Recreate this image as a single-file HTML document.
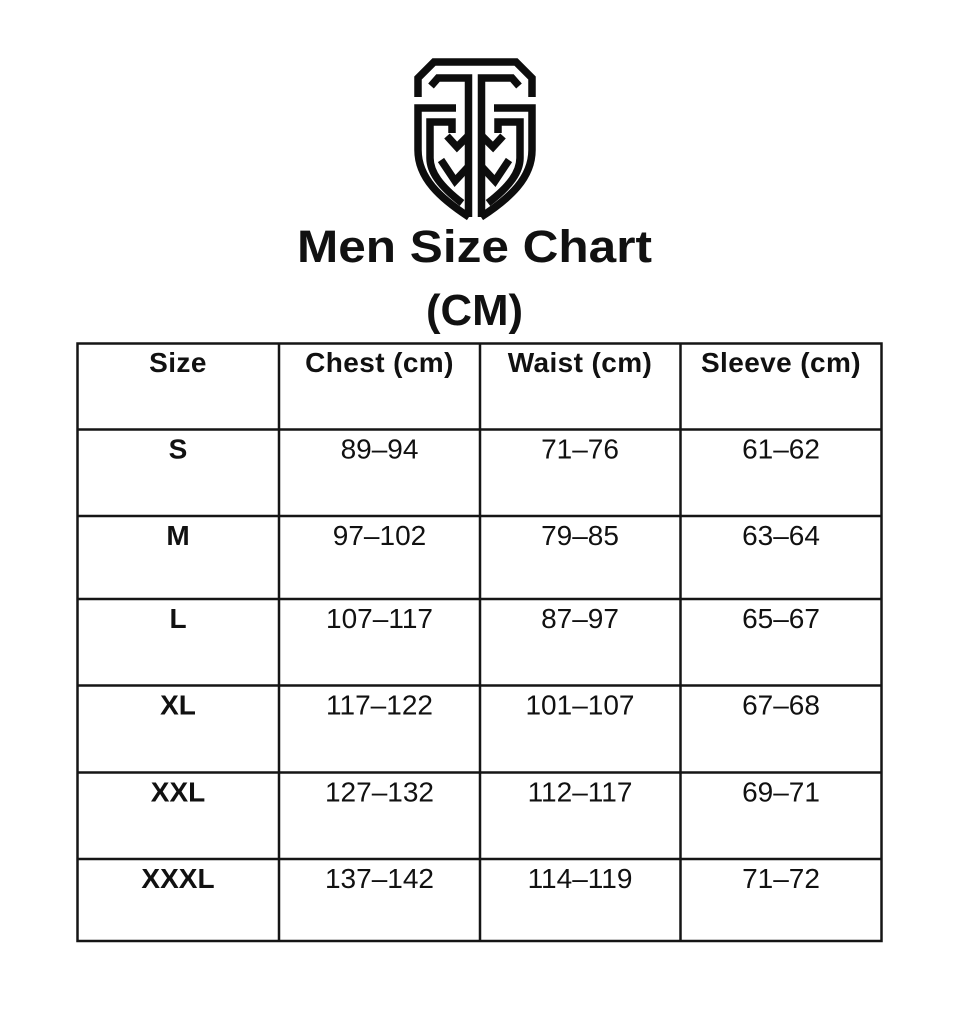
<!DOCTYPE html>
<html>
<head>
<meta charset="utf-8">
<style>
  html, body { margin: 0; padding: 0; background: #ffffff; }
  body { width: 954px; height: 1024px; overflow: hidden; }
  svg { display: block; }
  .t { font-family: "Liberation Sans", Arial, sans-serif; fill: #111; }
  .b { font-weight: bold; }
</style>
</head>
<body>
<svg width="954" height="1024" viewBox="0 0 954 1024" xmlns="http://www.w3.org/2000/svg">
  <rect x="0" y="0" width="954" height="1024" fill="#ffffff"/>

  <!-- Logo -->
  <g fill="none" stroke="#0d0d0d" stroke-width="7.5" stroke-linejoin="miter" stroke-linecap="butt">
    <path d="M 418 97 L 418 78 L 434 62 L 516 62 L 532 78 L 532 97"/>
    <!-- left half -->
    <path d="M 456 108 L 418 108 L 418 150 C 418 178 440 198 469 217"/>
    <path d="M 431 86 L 438 78 L 468.5 78 L 468.5 217"/>
    <path d="M 452 133 L 452 122 L 430 122 L 430 158 C 430 172 440 186 462 203"/>
    <path d="M 447 136 L 457 147 L 468 136"/>
    <path d="M 441 160 L 455 181 L 468 167"/>
    <!-- right half -->
    <path d="M 494 108 L 532 108 L 532 150 C 532 178 510 198 481 217"/>
    <path d="M 519 86 L 512 78 L 481.5 78 L 481.5 217"/>
    <path d="M 498 133 L 498 122 L 520 122 L 520 158 C 520 172 510 186 488 203"/>
    <path d="M 503 136 L 493 147 L 482 136"/>
    <path d="M 509 160 L 495 181 L 482 167"/>
  </g>

  <!-- Title -->
  <text class="t b" x="297" y="262" font-size="45" textLength="355" lengthAdjust="spacingAndGlyphs">Men Size Chart</text>
  <text class="t b" x="426" y="325" font-size="44" textLength="97" lengthAdjust="spacingAndGlyphs">(CM)</text>

  <!-- Table grid -->
  <g stroke="#151515" stroke-width="2.5" fill="none">
    <rect x="77.5" y="343.5" width="804" height="597.5"/>
    <line x1="279" y1="343.5" x2="279" y2="941"/>
    <line x1="480" y1="343.5" x2="480" y2="941"/>
    <line x1="680.5" y1="343.5" x2="680.5" y2="941"/>
    <line x1="77.5" y1="429.5" x2="881.5" y2="429.5"/>
    <line x1="77.5" y1="516" x2="881.5" y2="516"/>
    <line x1="77.5" y1="599" x2="881.5" y2="599"/>
    <line x1="77.5" y1="685.5" x2="881.5" y2="685.5"/>
    <line x1="77.5" y1="772.5" x2="881.5" y2="772.5"/>
    <line x1="77.5" y1="859" x2="881.5" y2="859"/>
  </g>

  <!-- Header -->
  <g class="t b" font-size="28" text-anchor="middle" letter-spacing="0.4">
    <text x="178" y="372">Size</text>
    <text x="379.5" y="372">Chest (cm)</text>
    <text x="580" y="372">Waist (cm)</text>
    <text x="781" y="372">Sleeve (cm)</text>
  </g>

  <!-- Size column -->
  <g class="t b" font-size="28" text-anchor="middle">
    <text x="178" y="458.5">S</text>
    <text x="178" y="545">M</text>
    <text x="178" y="628">L</text>
    <text x="178" y="714.5">XL</text>
    <text x="178" y="801.5">XXL</text>
    <text x="178" y="888">XXXL</text>
  </g>

  <!-- Data -->
  <g class="t" font-size="28" text-anchor="middle">
    <text x="379.5" y="458.5">89–94</text>
    <text x="580" y="458.5">71–76</text>
    <text x="781" y="458.5">61–62</text>

    <text x="379.5" y="545">97–102</text>
    <text x="580" y="545">79–85</text>
    <text x="781" y="545">63–64</text>

    <text x="379.5" y="628">107–117</text>
    <text x="580" y="628">87–97</text>
    <text x="781" y="628">65–67</text>

    <text x="379.5" y="714.5">117–122</text>
    <text x="580" y="714.5">101–107</text>
    <text x="781" y="714.5">67–68</text>

    <text x="379.5" y="801.5">127–132</text>
    <text x="580" y="801.5">112–117</text>
    <text x="781" y="801.5">69–71</text>

    <text x="379.5" y="888">137–142</text>
    <text x="580" y="888">114–119</text>
    <text x="781" y="888">71–72</text>
  </g>
</svg>
</body>
</html>
